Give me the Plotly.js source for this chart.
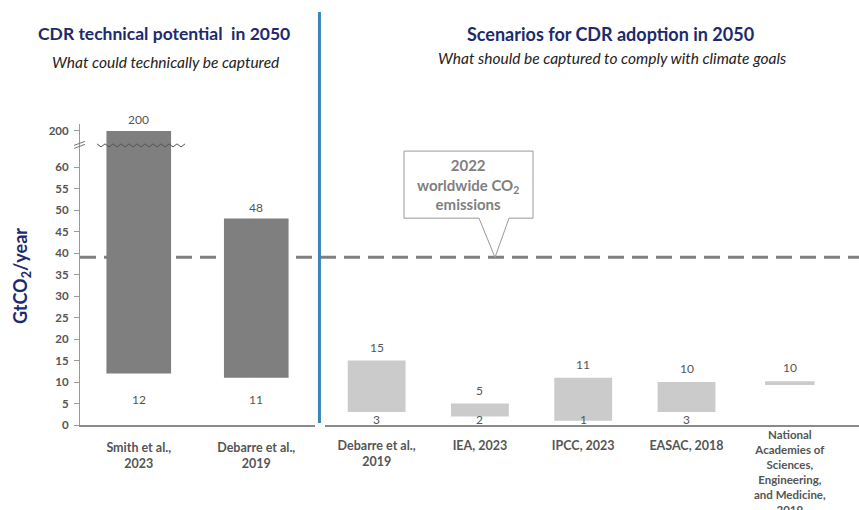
<!DOCTYPE html>
<html>
<head>
<meta charset="utf-8">
<script src="https://cdn.plot.ly/plotly-3.0.1.min.js"></script>
<style>html,body{margin:0;padding:0;background:#fff;}#chart{width:859px;height:510px;}</style>
</head>
<body>
<div id="chart"></div>
<script>
// ---- Data ----
const potentialSources = ['Smith et al.,<br>2023', 'Debarre et al.,<br>2019'];
const potentialLow = [12, 11];
const potentialHigh = [200, 48];

const scenarioSources = ['Debarre et al.,<br>2019', 'IEA, 2023', 'IPCC, 2023', 'EASAC, 2018',
  'National<br>Academies of<br>Sciences,<br>Engineering,<br>and Medicine,<br>2019'];
const scenarioLow = [3, 2, 1, 3, 10];
const scenarioHigh = [15, 5, 11, 10, 10];

const emissions2022 = 39;
const yTicks = [0, 5, 10, 15, 20, 25, 30, 35, 40, 45, 50, 55, 60, 200];

// ---- Broken axis mapping ----
const BREAK_FROM = 65, BREAK_VALUE = 200, BREAK_SHOWN = 68.4;
function disp(v) {
  return v <= BREAK_FROM ? v : BREAK_FROM + (v - BREAK_FROM) * (BREAK_SHOWN - BREAK_FROM) / (BREAK_VALUE - BREAK_FROM);
}

const FONT = 'Lato, "Open Sans", sans-serif';
const NAVY = '#1d2b6c';
const TXT = '#555555';

const leftIdx = potentialSources.map((_, i) => i);
const rightIdx = scenarioSources.map((_, i) => i);
// the long last label is placed as an annotation so it can sit higher, like the reference
const LONG = scenarioSources.length - 1;
const rightTickText = scenarioSources.map((s, i) => i === LONG ? '' : s);

function barGeom(lows, highs) {
  const base = [], h = [];
  lows.forEach((lo, i) => {
    const hi = highs[i];
    if (hi === lo) { base.push(disp(lo) - 0.7); h.push(0.9); }
    else { base.push(disp(lo)); h.push(disp(hi) - disp(lo)); }
  });
  return {base, h};
}
const lg = barGeom(potentialLow, potentialHigh);
const rg = barGeom(scenarioLow, scenarioHigh);

const traces = [
  {type: 'bar', x: leftIdx, y: lg.h, base: lg.base, width: 0.55, xaxis: 'x', yaxis: 'y',
   marker: {color: '#7f7f7f'}, hoverinfo: 'skip', showlegend: false},
  {type: 'bar', x: rightIdx, y: rg.h, base: rg.base, width: rightIdx.map(i => scenarioLow[i] === scenarioHigh[i] ? 0.48 : 0.56),
   xaxis: 'x2', yaxis: 'y', marker: {color: '#cbcbcb'}, hoverinfo: 'skip', showlegend: false}
];

// zigzag over the broken bar
const zx = [], zy = [];
const zx0 = -0.355, zx1 = 0.394, nz = 22;
for (let k = 0; k <= nz; k++) {
  zx.push(zx0 + (zx1 - zx0) * k / nz);
  zy.push(disp(66) + (k % 2 === 0 ? 0.35 : -0.35));
}
traces.push({type: 'scatter', mode: 'lines', x: zx, y: zy, xaxis: 'x', yaxis: 'y',
  line: {color: '#555', width: 1}, hoverinfo: 'skip', showlegend: false});

const annotations = [];
const numFont = {family: FONT, size: 12, color: TXT};
// value labels
potentialHigh.forEach((v, i) => annotations.push({x: i, y: disp(v), xref: 'x', yref: 'y', yanchor: 'bottom', yshift: 2,
  text: String(v), showarrow: false, font: numFont}));
potentialLow.forEach((v, i) => annotations.push({x: i, y: 6, xref: 'x', yref: 'y',
  text: String(v), showarrow: false, font: numFont}));
scenarioHigh.forEach((v, i) => annotations.push({x: i, y: disp(v) + (scenarioLow[i] === v ? 0.2 : 0), xref: 'x2', yref: 'y', yanchor: 'bottom', yshift: 4,
  text: String(v), showarrow: false, font: numFont}));
scenarioLow.forEach((v, i) => { if (v !== scenarioHigh[i]) annotations.push({x: i, y: 1.2, xref: 'x2', yref: 'y',
  text: String(v), showarrow: false, font: numFont}); });

// long category label
annotations.push({x: LONG, y: 0, xref: 'x2', yref: 'y', yanchor: 'top', xanchor: 'center', yshift: -1,
  text: scenarioSources[LONG], showarrow: false, font: {family: FONT, size: 11.5, color: TXT, weight: 'bold'}});

// titles
annotations.push(
  {x: 0.1078, y: 1.302, xref: 'paper', yref: 'paper', xanchor: 'center', yanchor: 'middle',
   text: '<b>CDR technical potential  in 2050</b>', showarrow: false, font: {family: FONT, size: 17.5, color: NAVY}},
  {x: 0.110, y: 1.207, xref: 'paper', yref: 'paper', xanchor: 'center', yanchor: 'middle',
   text: '<i>What could technically be captured</i>', showarrow: false, font: {family: FONT, size: 15.5, color: '#222'}},
  {x: 0.6816, y: 1.299, xref: 'paper', yref: 'paper', xanchor: 'center', yanchor: 'middle',
   text: '<b>Scenarios for CDR adoption in 2050</b>', showarrow: false, font: {family: FONT, size: 18, color: NAVY}},
  {x: 0.6830, y: 1.219, xref: 'paper', yref: 'paper', xanchor: 'center', yanchor: 'middle',
   text: '<i>What should be captured to comply with climate goals</i>', showarrow: false, font: {family: FONT, size: 15.5, color: '#222'}},
  {x: -0.0757, y: 0.495, xref: 'paper', yref: 'paper', xanchor: 'center', yanchor: 'middle',
   text: '<b>GtCO<sub>2</sub>/year</b>', textangle: -90, showarrow: false, font: {family: FONT, size: 18, color: NAVY}},
  {x: 0.886, y: 56, xref: 'x2', yref: 'y', xanchor: 'center', yanchor: 'middle',
   text: '<b>2022<br>worldwide CO<sub>2</sub><br>emissions</b>', showarrow: false, font: {family: FONT, size: 15, color: '#7f7f7f'}}
);

const shapes = [
  // 2022 emissions dashed line
  {type: 'line', xref: 'paper', yref: 'y', x0: 0, x1: 1, y0: emissions2022, y1: emissions2022, layer: 'below',
   line: {color: '#808080', width: 3, dash: '16px,8px'}},
  // blue separator
  {type: 'line', xref: 'paper', yref: 'paper', x0: 0.3074, x1: 0.3074, y0: 1.372, y1: 0.007,
   line: {color: '#3a86b8', width: 3}},
  // callout bubble
  {type: 'path', xref: 'x2', yref: 'y', layer: 'above',
   path: 'M 0.265 63.7 L 1.514 63.7 L 1.514 48.1 L 1.282 48.1 L 1.146 ' + emissions2022 + ' L 0.991 48.1 L 0.265 48.1 Z',
   fillcolor: '#ffffff', line: {color: '#9a9a9a', width: 1}},
  // axis break marks
  {type: 'line', xref: 'paper', yref: 'y', xsizemode: 'pixel', ysizemode: 'pixel', xanchor: 0, yanchor: disp(66),
   x0: -6, x1: 5, y0: -3, y1: 1, line: {color: '#777', width: 1}},
  {type: 'line', xref: 'paper', yref: 'y', xsizemode: 'pixel', ysizemode: 'pixel', xanchor: 0, yanchor: disp(66),
   x0: -6, x1: 5, y0: 0, y1: 4, line: {color: '#777', width: 1}}
];

const tickFontX = {family: FONT, size: 12.5, color: TXT, weight: 'bold'};
const layout = {
  width: 859, height: 510,
  margin: {l: 80, r: 0, t: 124, b: 85},
  paper_bgcolor: '#fff', plot_bgcolor: 'rgba(0,0,0,0)',
  barmode: 'overlay',
  showlegend: false,
  font: {family: FONT, color: TXT},
  xaxis: {domain: [0, 0.3017], range: [-0.5, 1.5], tickvals: leftIdx, ticktext: potentialSources,
    showgrid: false, zeroline: false, showline: true, linecolor: '#8a8a8a', linewidth: 2, ticks: '',
    tickfont: tickFontX, ticklabelstandoff: 10, fixedrange: true},
  xaxis2: {domain: [0.3145, 1], range: [-0.5, 4.67], tickvals: rightIdx, ticktext: rightTickText, anchor: 'y',
    showgrid: false, zeroline: false, showline: true, linecolor: '#8a8a8a', linewidth: 2, ticks: '',
    tickfont: tickFontX, ticklabelstandoff: 8, fixedrange: true},
  yaxis: {range: [0, 70], tickvals: yTicks.map(disp), ticktext: yTicks.map(String),
    showgrid: false, zeroline: false, showline: true, linecolor: '#9a9a9a', linewidth: 1,
    ticks: 'outside', ticklen: 5, tickcolor: '#9a9a9a', ticklabelstandoff: 3,
    tickfont: {family: FONT, size: 11.5, color: TXT, weight: 'bold'}, fixedrange: true},
  annotations: annotations,
  shapes: shapes
};

Plotly.newPlot('chart', traces, layout, {displayModeBar: false, staticPlot: true});
</script>
</body>
</html>
